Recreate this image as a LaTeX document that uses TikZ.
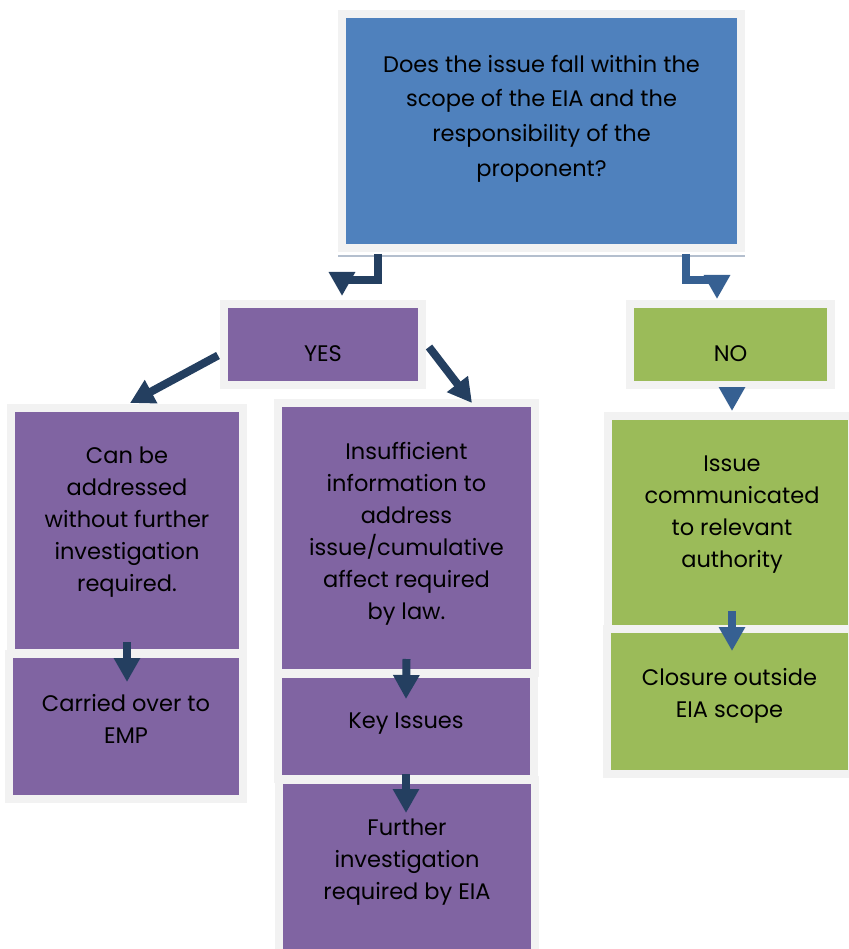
\documentclass[tikz,border=0pt]{standalone}
\usepackage{fontspec}
\setmainfont{Poppins}
\usetikzlibrary{arrows.meta, positioning, calc}
\definecolor{eiablue}{RGB}{79, 129, 189}
\definecolor{eiapurple}{RGB}{128, 100, 162}
\definecolor{eiagreen}{RGB}{155, 187, 89}
\definecolor{framegrey}{RGB}{242, 242, 242}
\definecolor{shadowgrey}{RGB}{180, 191, 206}
\definecolor{arrownavy}{RGB}{36, 63, 96}
\definecolor{arrowblue}{RGB}{54, 96, 146}

\begin{document}
\begin{tikzpicture}[
    x=1pt, y=-1pt,
    every node/.style={font=\fontsize{22.5}{32}\selectfont},
    box/.style={rectangle, draw=framegrey, line width=8pt, inner sep=0pt},
    txt/.style={align=center, text=black, inner sep=0pt},
    arrow/.style={-{Triangle[width=25pt, length=24pt]}, line width=8pt, arrownavy},
    arrowb/.style={arrow, arrowblue}
]
\useasboundingbox (0,0) rectangle (848,949);

% boxes
\node[box, fill=eiablue, minimum width=399pt, minimum height=234pt] (q) at (541.5,131) {};
\draw[shadowgrey, line width=1.5pt] ([yshift=-4.25pt]q.south west) -- ([yshift=-4.25pt]q.south east);
\node[box, fill=eiapurple, minimum width=198pt, minimum height=81pt] (yes) at (323,344.5) {};
\node[box, fill=eiagreen, minimum width=201pt, minimum height=81pt] (no) at (730.5,344.5) {};
\node[box, fill=eiapurple, minimum width=232pt, minimum height=245pt] (canaddr) at (127,530.5) {};
\node[box, fill=eiapurple, minimum width=234pt, minimum height=145pt] (emp) at (126,726.5) {};
\node[box, fill=eiapurple, minimum width=257pt, minimum height=270pt] (insuf) at (406.5,538) {};
\node[box, fill=eiapurple, minimum width=256pt, minimum height=105pt] (key) at (406,726.5) {};
\node[box, fill=eiapurple, minimum width=256pt, minimum height=180pt] (further) at (407,870) {};
\node[box, fill=eiagreen, minimum width=244pt, minimum height=213pt] (comm) at (730,522.5) {};
\node[box, fill=eiagreen, minimum width=245pt, minimum height=145pt] (closure) at (729.5,701.5) {};

% texts
\node[txt, font=\fontsize{22.5}{34.7}\selectfont] (qtxt) at ([yshift=12.5pt]q.center) {Does the issue fall within the\\ scope of the EIA and the\\ responsibility of the\\ proponent?};
\node[txt] (yestxt) at ([yshift=-9pt]yes.center) {YES};
\node[txt] (notxt) at ([yshift=-9pt]no.center) {NO};
\node[txt] (canaddrtxt) at ([yshift=8.5pt]canaddr.center) {Can be\\ addressed\\ without further\\ investigation\\ required.};
\node[txt] (emptxt) at ([yshift=8pt]emp.center) {Carried over to\\ EMP};
\node[txt] (insuftxt) at ([yshift=4.5pt]insuf.center) {Insufficient\\ information to\\ address\\ issue/cumulative\\ affect required\\ by law.};
\node[txt] (keytxt) at ([yshift=3pt]key.center) {Key Issues};
\node[txt] (furthertxt) at ([yshift=7.5pt]further.center) {Further\\ investigation\\ required by EIA};
\node[txt] (commtxt) at ([xshift=2pt, yshift=8pt]comm.center) {Issue\\ communicated\\ to relevant\\ authority};
\node[txt] (closuretxt) at ([yshift=6pt]closure.center) {Closure outside\\ EIA scope};

% connectors
\draw[arrow] ([xshift=-163.5pt, yshift=-2pt]q.south) -- ++(0,26) -| ([xshift=19pt, yshift=4pt]yes.north);
\draw[arrowb] ([xshift=144.5pt, yshift=-2pt]q.south) -- ++(0,26) -| ([xshift=-13.5pt, yshift=1pt]no.north);
\draw[arrow] ([xshift=-2pt, yshift=-11pt]yes.west) -- ([xshift=3pt, yshift=1pt]canaddr.north);
\draw[arrow] ([xshift=3pt, yshift=-2.5pt]yes.east) -- ([xshift=65.5pt, yshift=-4pt]insuf.north);
\draw[arrow] ([yshift=15pt]canaddr.south) -- ([xshift=1pt, yshift=-32pt]emp.north);
\draw[arrow] ([yshift=18pt]insuf.south) -- ([yshift=-29pt]key.north);
\draw[arrow] ([yshift=9pt]key.south) -- ([xshift=-1pt, yshift=-37pt]further.north);
\draw[arrowb] ([xshift=1.5pt]no.south) -- ([xshift=2pt, yshift=1pt]comm.north);
\draw[arrowb] ([xshift=2pt, yshift=22pt]comm.south) -- ([xshift=2.5pt, yshift=-26pt]closure.north);
\end{tikzpicture}
\end{document}
